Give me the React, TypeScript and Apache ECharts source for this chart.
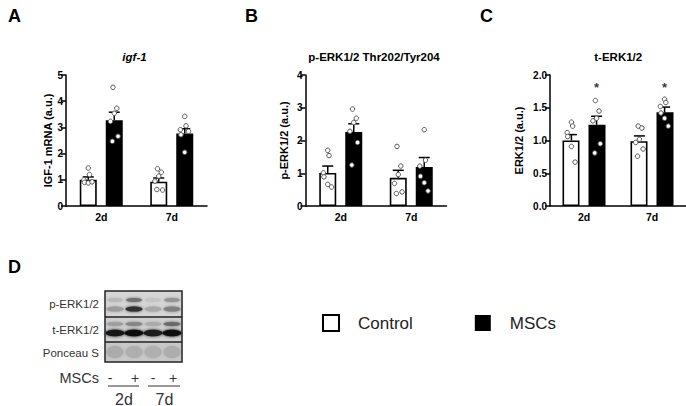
import React, { useEffect, useRef } from "react";
import * as echarts from "echarts";

const FONT = "Arial, 'Liberation Sans', Helvetica, sans-serif";

// ---------- data ----------
const categories = ["2d", "7d"];

// Panel A: igf-1 mRNA
const igfControlMean = [1.0, 0.93];
const igfControlErr = [0.11, 0.14];
const igfMscMean = [3.27, 2.77];
const igfMscErr = [0.31, 0.18];
const igfControlPts = [
  [1.45, 1.2, 1.0, 0.9, 0.88, 0.92],
  [1.42, 1.29, 1.14, 0.95, 0.61, 0.63],
];
const igfMscPts = [
  [4.53, 3.73, 3.54, 3.23, 2.66, 2.47],
  [3.42, 3.06, 2.91, 2.72, 2.05, 2.85],
];

// Panel B: p-ERK1/2
const perkControlMean = [1.01, 0.86];
const perkControlErr = [0.21, 0.23];
const perkMscMean = [2.26, 1.19];
const perkMscErr = [0.25, 0.29];
const perkControlPts = [
  [1.7, 1.54, 1.01, 0.89, 0.66, 0.58],
  [1.82, 1.22, 0.96, 0.69, 0.43, 0.38],
];
const perkMscPts = [
  [2.96, 2.68, 2.55, 2.28, 1.94, 1.25],
  [2.33, 1.4, 1.22, 0.91, 0.71, 0.46],
];

// Panel C: t-ERK1/2
const terkControlMean = [1.0, 0.99];
const terkControlErr = [0.09, 0.08];
const terkMscMean = [1.24, 1.43];
const terkMscErr = [0.13, 0.08];
const terkControlPts = [
  [1.28, 1.22, 1.12, 1.06, 0.91, 0.67],
  [1.22, 1.19, 1.02, 0.97, 0.87, 0.76],
];
const terkMscPts = [
  [1.61, 1.45, 1.34, 1.3, 0.95, 0.81],
  [1.63, 1.58, 1.52, 1.42, 1.34, 1.22],
];
const terkStars = [1.86, 1.86];

// horizontal jitter of the dots inside each bar (category units)
const jitterA = [0.0, 0.02, -0.07, -0.06, 0.0, 0.06];
const jitterB = [-0.02, 0.04, 0.0, -0.06, 0.06, -0.03];

// Western blot band intensities (lanes: 2d -, 2d +, 7d -, 7d +)
const blotLanes = ["-", "+", "-", "+"];
const pErkUpper = ["#b8b8b8", "#707070", "#c4c4c4", "#959595"];
const pErkLower = ["#9c9c9c", "#2e2e2e", "#a8a8a8", "#808080"];
const tErkUpper = ["#9e9e9e", "#858585", "#ababab", "#6a6a6a"];
const tErkLower = ["#151515", "#070707", "#1a1a1a", "#0a0a0a"];
const ponceau = ["#acacac", "#aeaeae", "#b0b0b0", "#adadad"];

// ---------- layout ----------
const GRID_TOP = 75;
const GRID_H = 131;
const BAR_W = 17;
const BAR_GAP_PX = 9;

type Panel = {
  left: number;
  width: number;
  max: number;
  interval: number;
  decimals: number;
  yName: string;
  nameGap: number;
  title: string;
  titleItalic: boolean;
  letter: string;
  letterX: number;
  cMean: number[];
  cErr: number[];
  mMean: number[];
  mErr: number[];
  cPts: number[][];
  mPts: number[][];
  stars?: number[];
};

const panels: Panel[] = [
  {
    left: 66, width: 141, max: 5, interval: 1, decimals: 0,
    yName: "IGF-1 mRNA (a.u.)", nameGap: 13, title: "igf-1", titleItalic: true,
    letter: "A", letterX: 8,
    cMean: igfControlMean, cErr: igfControlErr, mMean: igfMscMean, mErr: igfMscErr,
    cPts: igfControlPts, mPts: igfMscPts,
  },
  {
    left: 305.5, width: 141, max: 4, interval: 1, decimals: 0,
    yName: "p-ERK1/2 (a.u.)", nameGap: 16, title: "p-ERK1/2 Thr202/Tyr204", titleItalic: false,
    letter: "B", letterX: 245,
    cMean: perkControlMean, cErr: perkControlErr, mMean: perkMscMean, mErr: perkMscErr,
    cPts: perkControlPts, mPts: perkMscPts,
  },
  {
    left: 550, width: 140.5, max: 2, interval: 0.5, decimals: 1,
    yName: "ERK1/2 (a.u.)", nameGap: 26, title: "t-ERK1/2", titleItalic: false,
    letter: "C", letterX: 480,
    cMean: terkControlMean, cErr: terkControlErr, mMean: terkMscMean, mErr: terkMscErr,
    cPts: terkControlPts, mPts: terkMscPts, stars: terkStars,
  },
];

function buildOption() {
  const grid: any[] = [];
  const xAxis: any[] = [];
  const yAxis: any[] = [];
  const series: any[] = [];
  const graphic: any[] = [];

  const errRender = (params: any, api: any) => {
    const x = api.value(0);
    const m = api.value(1);
    const u = api.value(2);
    const p0 = api.coord([x, m]);
    const p1 = api.coord([x, u]);
    return {
      type: "group",
      children: [
        { type: "line", shape: { x1: p0[0], y1: p0[1], x2: p1[0], y2: p1[1] }, style: { stroke: "#000", lineWidth: 1.5 } },
        { type: "line", shape: { x1: p1[0] - 5.5, y1: p1[1], x2: p1[0] + 5.5, y2: p1[1] }, style: { stroke: "#000", lineWidth: 1.5 } },
      ],
    };
  };

  panels.forEach((p, i) => {
    grid.push({ left: p.left, top: GRID_TOP, width: p.width, height: GRID_H });
    const catW = p.width / categories.length;
    const off = (BAR_W + BAR_GAP_PX) / 2 / catW;

    xAxis.push({
      type: "category",
      gridIndex: i,
      data: categories,
      axisLine: { lineStyle: { color: "#000", width: 1.5 } },
      axisTick: { alignWithLabel: true, length: 5, lineStyle: { color: "#000", width: 1.5 } },
      axisLabel: { color: "#000", fontFamily: FONT, fontWeight: "bold", fontSize: 10.5, margin: 5 },
    });
    xAxis.push({ type: "value", gridIndex: i, min: 0, max: categories.length, show: false });
    yAxis.push({
      type: "value",
      gridIndex: i,
      min: 0,
      max: p.max,
      interval: p.interval,
      name: p.yName,
      nameLocation: "middle",
      nameGap: p.nameGap,
      nameTextStyle: { color: "#000", fontFamily: FONT, fontWeight: "bold", fontSize: 11 },
      axisLine: { show: true, lineStyle: { color: "#000", width: 1.5 } },
      axisTick: { show: true, length: 5, lineStyle: { color: "#000", width: 1.5 } },
      splitLine: { show: false },
      axisLabel: {
        color: "#000", fontFamily: FONT, fontWeight: "bold", fontSize: 10, margin: 3,
        formatter: (v: number) => v.toFixed(p.decimals),
      },
    });

    const xi = i * 2;
    series.push({
      type: "bar", name: "Control", xAxisIndex: xi, yAxisIndex: i,
      data: p.cMean, barWidth: BAR_W, barGap: `${(BAR_GAP_PX / BAR_W) * 100}%`,
      itemStyle: { color: "#fff", borderColor: "#000", borderWidth: 1.6 },
      z: 2,
    });
    series.push({
      type: "bar", name: "MSCs", xAxisIndex: xi, yAxisIndex: i,
      data: p.mMean, barWidth: BAR_W,
      itemStyle: { color: "#000", borderColor: "#000", borderWidth: 1.6 },
      z: 2,
    });

    const errData: number[][] = [];
    categories.forEach((_, c) => {
      errData.push([c + 0.5 - off, p.cMean[c], p.cMean[c] + p.cErr[c]]);
      errData.push([c + 0.5 + off, p.mMean[c], p.mMean[c] + p.mErr[c]]);
    });
    series.push({
      type: "custom", name: "err" + i, xAxisIndex: xi + 1, yAxisIndex: i,
      renderItem: errRender, data: errData, z: 3,
      encode: { x: 0, y: [1, 2] },
    });

    const ptData: number[][] = [];
    categories.forEach((_, c) => {
      p.cPts[c].forEach((v, k) => ptData.push([c + 0.5 - off + (c === 0 ? jitterA[k] : jitterB[k]) * 0.9, v]));
      p.mPts[c].forEach((v, k) => ptData.push([c + 0.5 + off + (c === 0 ? jitterB[k] : jitterA[k]) * 0.9, v]));
    });
    series.push({
      type: "scatter", name: "pts" + i, xAxisIndex: xi + 1, yAxisIndex: i,
      data: ptData, symbol: "circle", symbolSize: 4.5,
      itemStyle: { color: "#fff", borderColor: "#555", borderWidth: 1, opacity: 1 },
      z: 4,
    });

    if (p.stars) {
      series.push({
        type: "scatter", name: "stars" + i, xAxisIndex: xi + 1, yAxisIndex: i,
        data: p.stars.map((v, c) => [c + 0.5 + off, v]),
        symbolSize: 2, itemStyle: { color: "rgba(0,0,0,0)" },
        label: {
          show: true, position: "inside", formatter: "*", color: "#000",
          fontFamily: FONT, fontWeight: "bold", fontSize: 13, offset: [0, 3],
        },
        z: 5,
      });
    }

    // title and letter
    graphic.push({
      type: "text", x: p.left + p.width / 2 - 2, y: 57,
      style: {
        text: p.title, fill: "#000", font: `${p.titleItalic ? "italic " : ""}bold 11.5px ${FONT}`,
        textAlign: "center", textVerticalAlign: "middle",
      },
    });
    graphic.push({
      type: "text", x: p.letterX, y: 16,
      style: { text: p.letter, fill: "#000", font: `bold 18px ${FONT}`, textAlign: "left", textVerticalAlign: "middle" },
    });
  });

  // ----- panel D: western blot -----
  graphic.push({
    type: "text", x: 8, y: 267,
    style: { text: "D", fill: "#000", font: `bold 18px ${FONT}`, textAlign: "left", textVerticalAlign: "middle" },
  });
  const laneX = [115, 134, 153, 172];
  const boxL = 105, boxR = 182;
  const rows = [
    { y0: 291, y1: 317, fill: "#d6d6d6" },
    { y0: 317, y1: 342, fill: "#d0d0d0" },
    { y0: 342, y1: 362, fill: "#c9c9c9" },
  ];
  rows.forEach((r) => {
    graphic.push({ type: "rect", shape: { x: boxL, y: r.y0, width: boxR - boxL, height: r.y1 - r.y0 }, style: { fill: r.fill }, z: 1 });
  });
  const bandSets = [
    { colors: pErkUpper, y: 300, rx: 8, ry: 2 },
    { colors: pErkLower, y: 309, rx: 8.5, ry: 2.6 },
    { colors: tErkUpper, y: 324, rx: 8.5, ry: 2 },
    { colors: tErkLower, y: 333, rx: 9.5, ry: 3.2 },
    { colors: ponceau, y: 352, rx: 8.5, ry: 6 },
  ];
  bandSets.forEach((b) => {
    b.colors.forEach((col, k) => {
      graphic.push({
        type: "ellipse", shape: { cx: laneX[k], cy: b.y, rx: b.rx, ry: b.ry },
        style: { fill: col, shadowBlur: 3, shadowColor: col }, z: 2,
      });
    });
  });
  graphic.push({ type: "rect", shape: { x: boxL, y: 291, width: boxR - boxL, height: 71 }, style: { fill: "none", stroke: "#222", lineWidth: 1.5 }, z: 3 });
  graphic.push({ type: "line", shape: { x1: boxL, y1: 317, x2: boxR, y2: 317 }, style: { stroke: "#222", lineWidth: 1.5 }, z: 3 });
  graphic.push({ type: "line", shape: { x1: boxL, y1: 342, x2: boxR, y2: 342 }, style: { stroke: "#222", lineWidth: 1.5 }, z: 3 });

  const rowLabels = [
    { t: "p-ERK1/2", y: 304 },
    { t: "t-ERK1/2", y: 330 },
    { t: "Ponceau S", y: 353 },
  ];
  rowLabels.forEach((r) => {
    graphic.push({
      type: "text", x: 99, y: r.y,
      style: { text: r.t, fill: "#333", font: `11.5px ${FONT}`, textAlign: "right", textVerticalAlign: "middle" },
    });
  });
  graphic.push({
    type: "text", x: 99, y: 378,
    style: { text: "MSCs", fill: "#333", font: `14.5px ${FONT}`, textAlign: "right", textVerticalAlign: "middle" },
  });
  const signX = [110, 135, 153, 173];
  blotLanes.forEach((s, k) => {
    graphic.push({
      type: "text", x: signX[k], y: 378,
      style: { text: s, fill: "#333", font: `14px ${FONT}`, textAlign: "center", textVerticalAlign: "middle" },
    });
  });
  graphic.push({ type: "line", shape: { x1: 108, y1: 386, x2: 139, y2: 386 }, style: { stroke: "#333", lineWidth: 1 } });
  graphic.push({ type: "line", shape: { x1: 148, y1: 386, x2: 180, y2: 386 }, style: { stroke: "#333", lineWidth: 1 } });
  const dayX = [124, 164.5];
  categories.forEach((c, k) => {
    graphic.push({
      type: "text", x: dayX[k], y: 399,
      style: { text: c, fill: "#333", font: `16px ${FONT}`, textAlign: "center", textVerticalAlign: "middle" },
    });
  });

  return {
    animation: false,
    backgroundColor: "#fff",
    grid,
    xAxis,
    yAxis,
    series,
    graphic,
    legend: {
      left: 322,
      top: 314,
      padding: 0,
      itemWidth: 16,
      itemHeight: 16,
      itemGap: 62,
      selectedMode: false,
      textStyle: { color: "#222", fontFamily: FONT, fontSize: 17, padding: [0, 0, 0, 14] },
      data: [
        { name: "Control", icon: "rect", itemStyle: { color: "#fff", borderColor: "#000", borderWidth: 2 } },
        { name: "MSCs", icon: "rect", itemStyle: { color: "#000", borderColor: "#000", borderWidth: 0 } },
      ],
    },
  };
}

export default function App() {
  const ref = useRef<HTMLDivElement>(null);
  useEffect(() => {
    if (!ref.current) return;
    const chart = echarts.init(ref.current, undefined, { renderer: "svg" });
    chart.setOption(buildOption() as any);
    return () => chart.dispose();
  }, []);
  return (
    <div
      ref={ref}
      style={{ position: "fixed", left: 0, top: 0, width: 686, height: 406, background: "#fff" }}
    />
  );
}
